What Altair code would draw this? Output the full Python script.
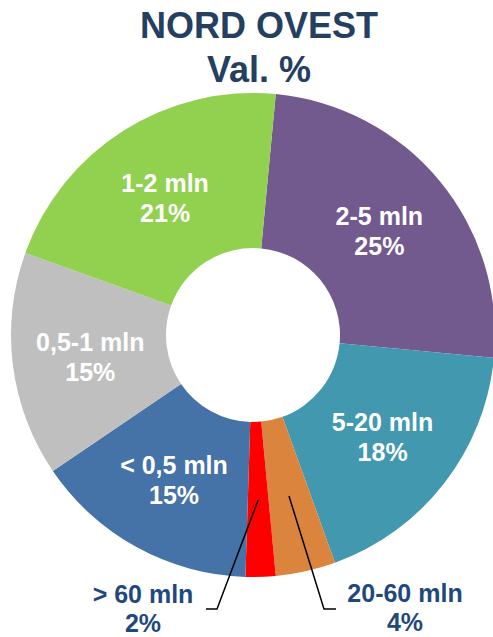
import math

import altair as alt
import pandas as pd

# Slice data, clockwise from the top
categories = ["2-5 mln", "5-20 mln", "20-60 mln", "> 60 mln", "< 0,5 mln", "0,5-1 mln", "1-2 mln"]
shares = [25, 18, 4, 2, 15, 15, 21]
colors = ["#725A8F", "#4198AF", "#DB843D", "#FF0000", "#4572A7", "#BFBFBF", "#92D050"]
outside_labels = ["20-60 mln", "> 60 mln"]
title_lines = ["NORD OVEST", "Val. %"]

# Layout (pixels)
W, H = 493, 637
CX, CY = 253, 335
R_OUT, R_IN = 242, 87
R_LABEL = 164
R_LEADER = 165
START = math.radians(5.4)
FONT = "Liberation Sans, Arial, sans-serif"
TITLE_COLOR = "#243F60"
CALLOUT_COLOR = "#1F497D"
LINE_H = 29

# Callout placement for the two thin slices: elbow, line end, first text line
callouts = {
    "> 60 mln": {"elbow": (217, 609), "end": (206, 609), "text": (143, 595)},
    "20-60 mln": {"elbow": (324, 609), "end": (336, 609), "text": (405, 594)},
}

df = pd.DataFrame({"cat": categories, "share": shares, "idx": range(len(categories))})
df["label"] = [
    "" if c in outside_labels else f"{c}\n{s}%" for c, s in zip(categories, shares)
]

theta_scale = alt.Scale(domain=[0, sum(shares)], range=[START, START + 2 * math.pi])
color_scale = alt.Scale(domain=categories, range=colors)

base = alt.Chart(df).encode(
    theta=alt.Theta("share:Q", stack=True, scale=theta_scale),
    order=alt.Order("idx:Q"),
    x=alt.value(CX),
    y=alt.value(CY),
)

ring = base.mark_arc(outerRadius=R_OUT, innerRadius=R_IN).encode(
    color=alt.Color("cat:N", scale=color_scale, legend=None)
)

# white labels inside the wide slices (stacked over all rows so angles match the ring)
inner_text = base.mark_text(
    radius=R_LABEL, dy=-13, font=FONT, fontSize=25, fontWeight="bold", color="white",
    lineBreak="\n", lineHeight=30, align="center", baseline="middle",
).encode(text="label:N")

# Leader lines: start inside the slice at its mid angle, then elbow to the label
cum = 0.0
rows = []
texts = []
total = sum(shares)
for cat, share in zip(categories, shares):
    mid = START + 2 * math.pi * (cum + share / 2) / total
    cum += share
    if cat in callouts:
        c = callouts[cat]
        sx = CX + R_LEADER * math.sin(mid)
        sy = CY - R_LEADER * math.cos(mid)
        for k, (px, py) in enumerate([(sx, sy), c["elbow"], c["end"]]):
            rows.append({"cat": cat, "k": k, "x": px, "y": py})
        texts.append({"label": f"{cat}\n{share}%", "x": c["text"][0], "y": c["text"][1]})

px_x = alt.X("x:Q", scale=alt.Scale(domain=[0, W], nice=False, zero=False), axis=None)
px_y = alt.Y("y:Q", scale=alt.Scale(domain=[0, H], nice=False, zero=False, reverse=True), axis=None)

leaders = alt.Chart(pd.DataFrame(rows)).mark_line(color="black", strokeWidth=1.5).encode(
    x=px_x, y=px_y, detail="cat:N", order="k:Q"
)

callout_text = alt.Chart(pd.DataFrame(texts)).mark_text(
    font=FONT, fontSize=25, fontWeight="bold", color=CALLOUT_COLOR,
    lineBreak="\n", lineHeight=LINE_H, align="center", baseline="middle",
).encode(x=px_x, y=px_y, text="label:N")

titles = alt.Chart(pd.DataFrame({"t": title_lines, "x": [259, 259], "y": [38, 82]})).mark_text(
    font=FONT, fontSize=36, fontWeight="bold", color=TITLE_COLOR,
    align="center", baseline="alphabetic",
).encode(x=px_x, y=px_y, text="t:N")

chart = alt.layer(ring, inner_text, leaders, callout_text, titles).properties(
    width=W, height=H, padding=0, autosize="none"
).configure_view(stroke=None)

chart.save("out.html", embed_options={"renderer": "svg", "actions": False})
